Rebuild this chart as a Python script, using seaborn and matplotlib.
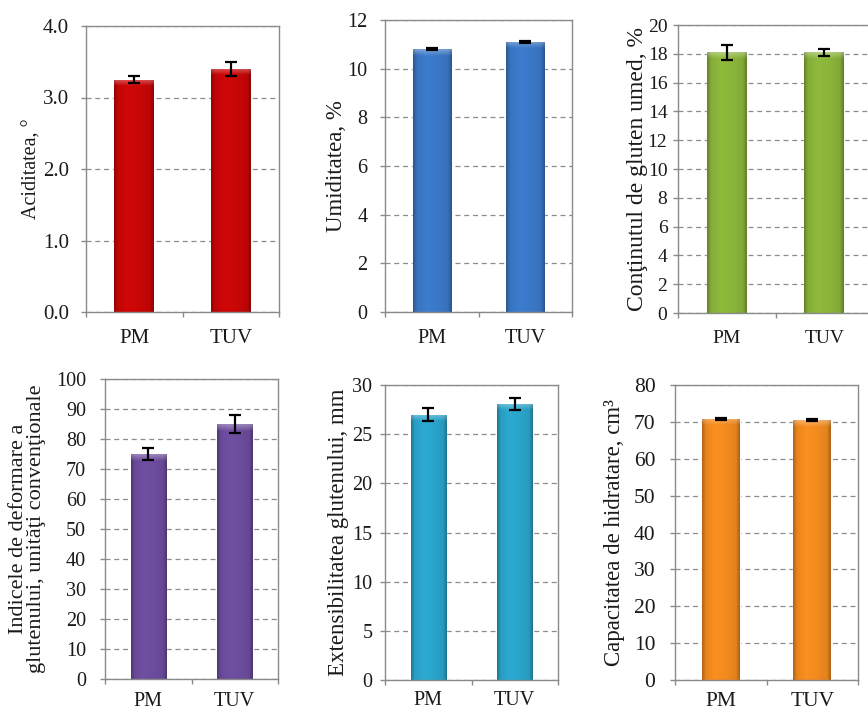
import numpy as np
import pandas as pd
import matplotlib
matplotlib.use("Agg")
import matplotlib.pyplot as plt
import seaborn as sns
from matplotlib.colors import to_rgb
from matplotlib.ticker import FormatStrFormatter, MultipleLocator, FixedLocator

sns.set_theme(style="white")
plt.rcParams["font.family"] = ["Liberation Serif", "DejaVu Serif"]

samples = ["PM", "TUV"]

acid_mean = [3.25, 3.40]
acid_err = [0.05, 0.10]
moist_mean = [10.8, 11.1]
moist_err = [0.03, 0.03]
gluten_mean = [18.1, 18.1]
gluten_err = [0.5, 0.25]
deform_mean = [75.0, 85.0]
deform_err = [2.0, 3.0]
ext_mean = [27.0, 28.1]
ext_err = [0.7, 0.6]
hydr_mean = [70.8, 70.5]
hydr_err = [0.3, 0.3]

W, H = 868, 712
fig = plt.figure(figsize=(W / 100, H / 100), dpi=100)

panels = [
    dict(mean=acid_mean, err=acid_err, label="Aciditatea, °", ymax=4.0, step=1.0,
         fmt="%.1f", color="#c80606", box=(86, 279, 26, 312), tick_fs=15, lab_fs=14.5,
         ypad=8.5, xpad=12.5, lpad=1),
    dict(mean=moist_mean, err=moist_err, label="Umiditatea, %", ymax=12, step=2,
         fmt="%d", color="#3a78c6", box=(385, 572, 20, 312), tick_fs=14.5, lab_fs=16.5,
         ypad=9, xpad=12.5, lpad=0),
    dict(mean=gluten_mean, err=gluten_err, label="Conţinutul de gluten umed, %", ymax=20, step=2,
         fmt="%d", color="#8ab43a", box=(678, 873, 25, 313), tick_fs=14, lab_fs=17,
         ypad=4, xpad=12, lpad=0),
    dict(mean=deform_mean, err=deform_err,
         label="Indicele de deformare a\nglutenului, unităţi convenţionale", ymax=100, step=10,
         fmt="%d", color="#6c4c9c", box=(105, 278, 379, 679), tick_fs=14.5, lab_fs=16,
         ypad=10, xpad=9.5, lpad=7),
    dict(mean=ext_mean, err=ext_err, label="Extensibilitatea glutenului, mm", ymax=30, step=5,
         fmt="%d", color="#2aa4ca", box=(385, 558, 385, 680), tick_fs=14.5, lab_fs=16.5,
         ypad=5.5, xpad=8, lpad=2),
    dict(mean=hydr_mean, err=hydr_err, label="Capacitatea de hidratare, cm³", ymax=80, step=10,
         fmt="%d", color="#f28a1e", box=(675, 858, 385, 680), tick_fs=15.5, lab_fs=16.5,
         ypad=10.5, xpad=9, lpad=6),
]


def shade_bars(ax, color, ymax):
    """Give each bar soft darker edges and a light rounded top."""
    base = np.array(to_rgb(color))
    u = np.linspace(0, 1, 96)
    # horizontal brightness profile: darker rims, flat body
    prof = np.interp(u, [0, 0.1, 0.35, 0.65, 0.9, 1], [0.72, 0.96, 1.04, 1.0, 0.94, 0.70])
    for p in list(ax.patches):
        x0, y0 = p.get_x(), p.get_y()
        w, h = p.get_width(), p.get_height()
        nv = 300
        t = np.linspace(0, 1, nv)[:, None]
        img = np.clip(base[None, None, :] * prof[None, :, None], 0, 1)
        img = np.repeat(img, nv, axis=0)
        hl = min(0.022 * ymax / h, 0.2)
        k = np.clip(1 - t / hl, 0, 1) * 0.32
        img = img * (1 - k[..., None]) + k[..., None]
        im = ax.imshow(img, extent=(x0, x0 + w, y0, y0 + h), aspect="auto",
                       zorder=p.get_zorder() + 0.1, interpolation="bilinear")
        im.set_clip_path(p)


for spec in panels:
    l, r, t, b = spec["box"]
    ax = fig.add_axes([l / W, 1 - b / H, (r - l) / W, (b - t) / H])
    df = pd.DataFrame({"sample": samples, "value": spec["mean"]})
    sns.barplot(data=df, x="sample", y="value", color=spec["color"], width=0.41,
                saturation=1, errorbar=None, ax=ax, zorder=2)
    shade_bars(ax, spec["color"], spec["ymax"])
    ax.errorbar(range(len(samples)), spec["mean"], yerr=spec["err"], fmt="none",
                ecolor="black", elinewidth=1.6, capsize=4, capthick=1.6, zorder=5)

    ax.set_xlim(-0.5, len(samples) - 0.5)
    ax.set_ylim(0, spec["ymax"])
    ax.yaxis.set_major_locator(MultipleLocator(spec["step"]))
    ax.yaxis.set_major_formatter(FormatStrFormatter(spec["fmt"]))
    ax.xaxis.set_minor_locator(FixedLocator([-0.5, 0.5, 1.5]))

    ax.set_axisbelow(True)
    ax.yaxis.grid(True, linestyle=(0, (4, 3)), color="#8c8c8c", linewidth=0.9)
    for s in ax.spines.values():
        s.set_color("#8a8a8a")
        s.set_linewidth(1.0)

    ax.tick_params(axis="y", which="major", direction="out", length=3.6, width=1,
                   color="#8a8a8a", labelsize=spec["tick_fs"], labelcolor="#1a1a1a",
                   pad=spec["ypad"], left=True)
    ax.tick_params(axis="x", which="major", length=0, labelsize=spec["tick_fs"],
                   labelcolor="#1a1a1a", pad=spec["xpad"])
    ax.tick_params(axis="x", which="minor", direction="out", length=3.6, width=1,
                   color="#8a8a8a", bottom=True)

    ax.set_xlabel("")
    ax.set_ylabel(spec["label"], fontsize=spec["lab_fs"], color="#1a1a1a",
                  labelpad=spec["lpad"], linespacing=0.95)

fig.savefig("out.png", dpi=100, facecolor="white")
